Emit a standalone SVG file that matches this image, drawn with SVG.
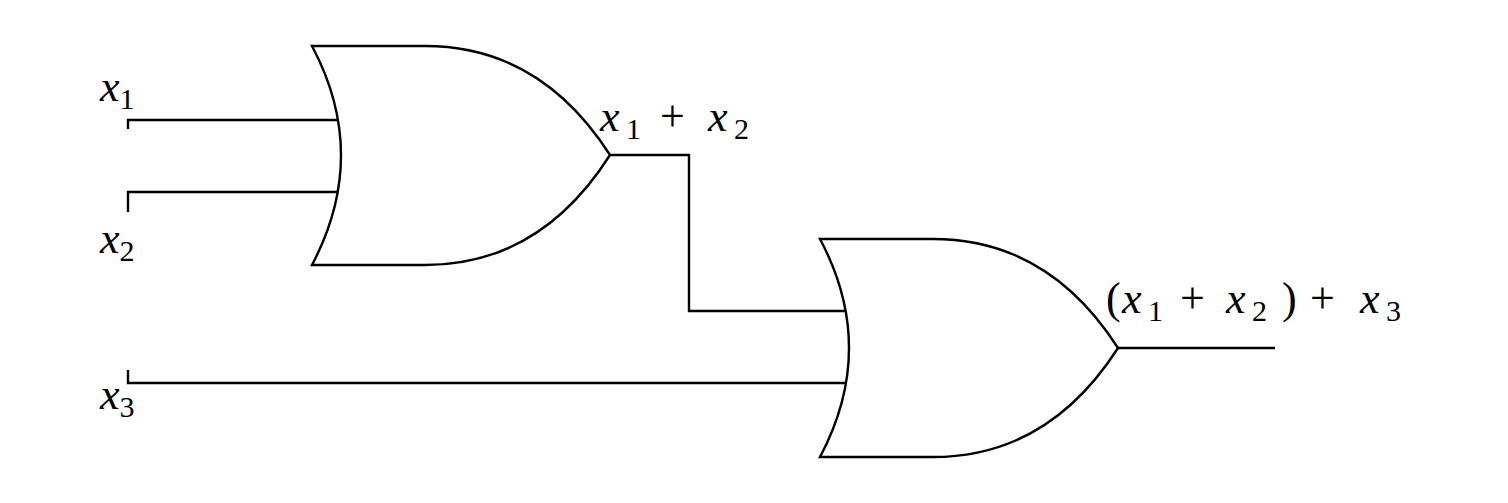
<svg xmlns="http://www.w3.org/2000/svg" width="1508" height="503" viewBox="0 0 1508 503">
<style>
.g{fill:#fff;stroke:#000;stroke-width:2.4}
.w{fill:none;stroke:#000;stroke-width:2.4}
text,tspan{font-family:'Liberation Serif','Times New Roman','DejaVu Serif',serif;font-size:44px;fill:#000}
.v{font-style:italic}
.s{font-size:30px}
</style>
<rect width="1508" height="503" fill="#fff"/>
<g id="connectors">
<path class="w" d="M128,129 V120 H338"/>
<path class="w" d="M128,212 V192 H339"/>
<path class="w" d="M128,370 V383 H848"/>
<path class="w" d="M610,155 H689 V311 H847"/>
<path class="w" d="M1118,348 H1275"/>
</g>
<g id="gate1">
<path class="g" d="M312,46 H425 Q540,46 610,155 Q540,265 425,265 H312 Q370,155 312,46 Z"/>
</g>
<g id="gate2">
<path class="g" d="M820,239 H933 Q1048,239 1118,348 Q1048,457 933,457 H820 Q878,348 820,239 Z"/>
</g>
<g id="labels">
<text x="100" y="101"><tspan class="v">x</tspan><tspan class="s" dy="8">1</tspan></text>
<text x="100" y="253"><tspan class="v">x</tspan><tspan class="s" dy="8">2</tspan></text>
<text x="100" y="409"><tspan class="v">x</tspan><tspan class="s" dy="8">3</tspan></text>
<text y="131"><tspan class="v" x="600">x</tspan><tspan class="s" x="626" dy="8">1</tspan><tspan x="660" dy="-8">+</tspan><tspan class="v" x="708">x</tspan><tspan class="s" x="734" dy="8">2</tspan></text>
<text y="313"><tspan x="1106">(</tspan><tspan class="v" x="1122">x</tspan><tspan class="s" x="1148" dy="8">1</tspan><tspan x="1180" dy="-8">+</tspan><tspan class="v" x="1226">x</tspan><tspan class="s" x="1252" dy="8">2</tspan><tspan x="1282" dy="-8">)</tspan><tspan x="1310">+</tspan><tspan class="v" x="1360">x</tspan><tspan class="s" x="1386" dy="8">3</tspan></text>
</g>
</svg>
